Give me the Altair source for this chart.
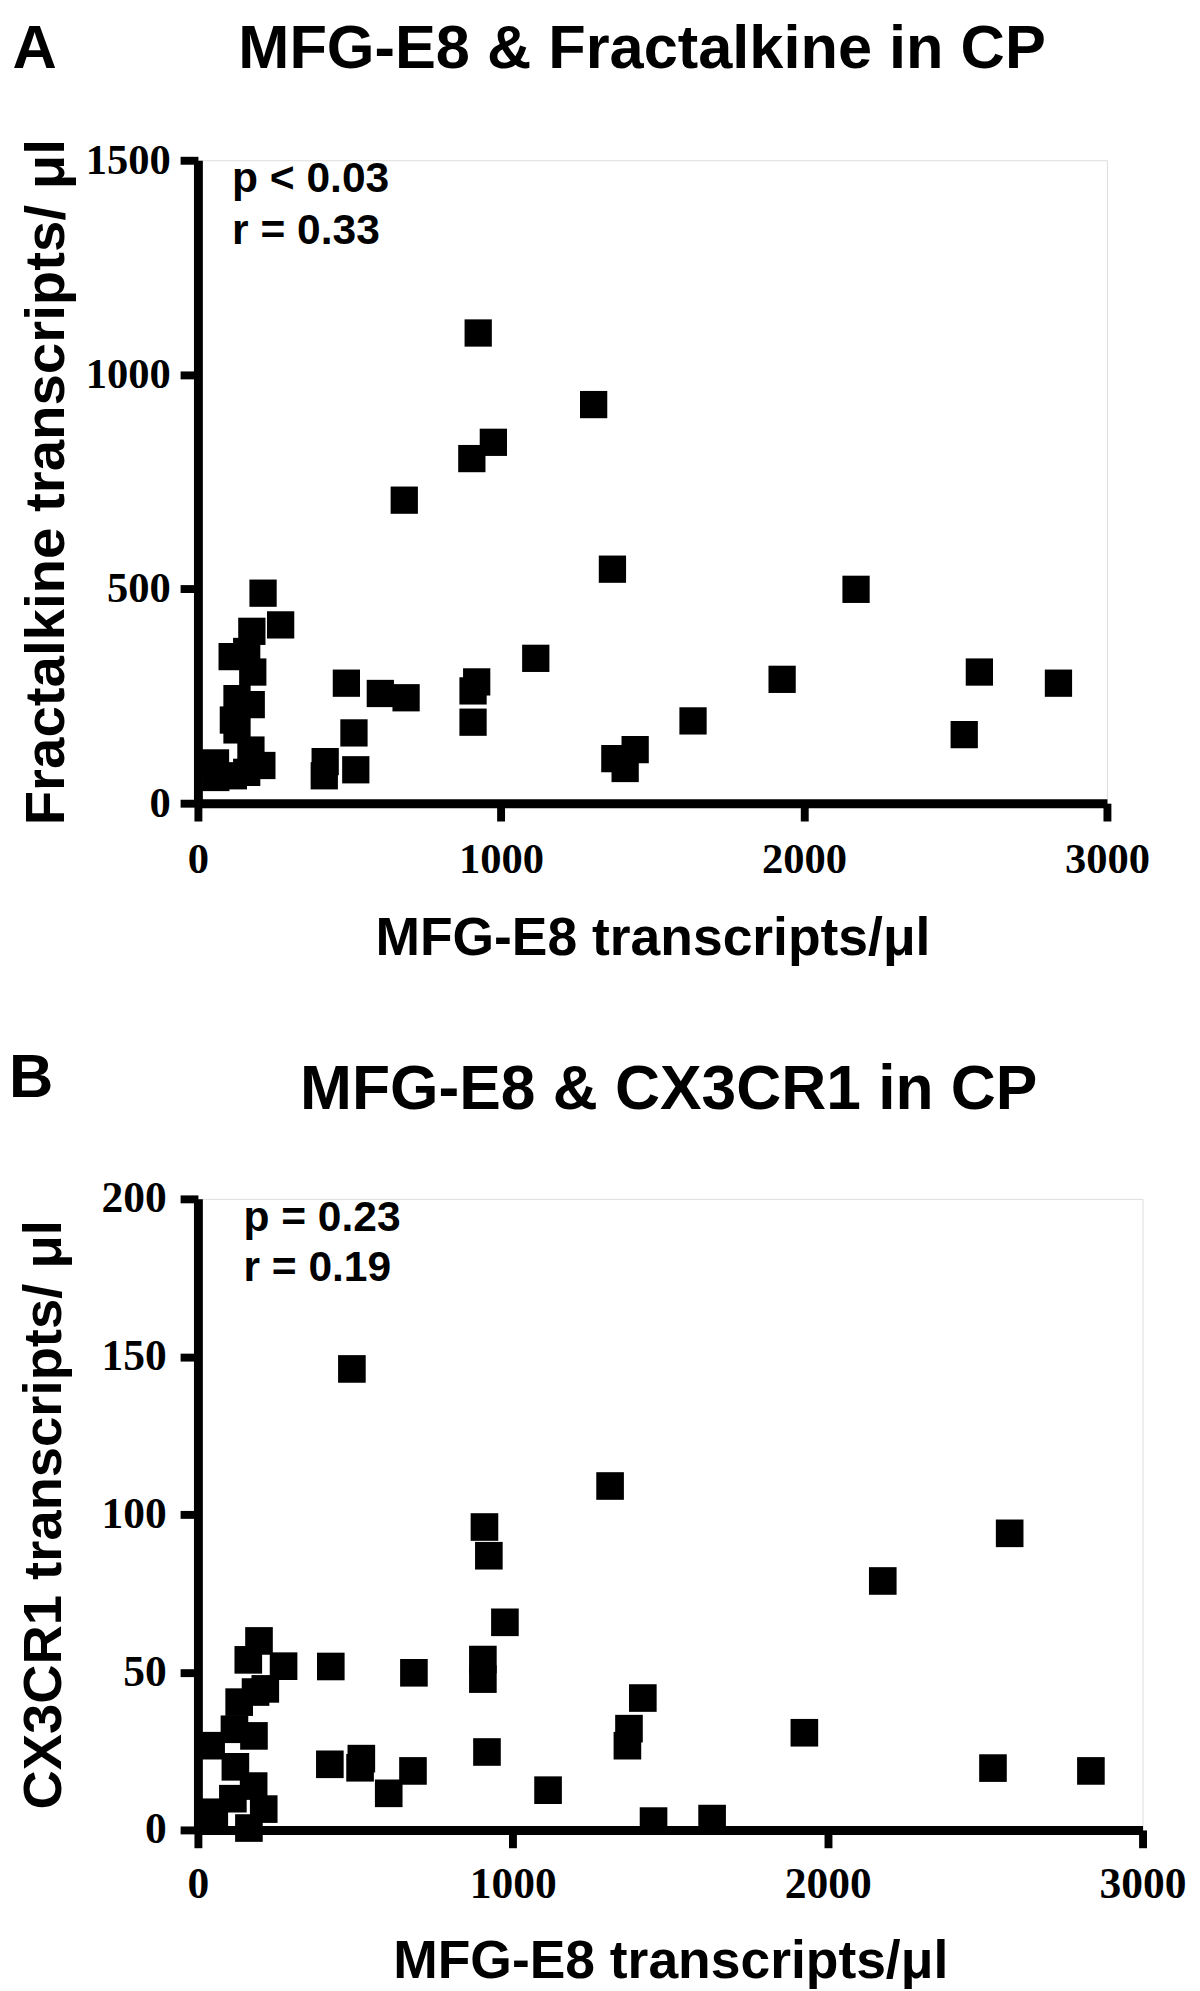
import altair as alt
import pandas as pd

# ---------------- data ----------------
# Panel A: MFG-E8 vs Fractalkine
mfge8_a = [925, 1306, 975, 904, 681, 1368, 2172, 1115, 490, 602, 687, 920, 908, 908,
           1928, 2579, 2840, 1634, 2529, 1443, 1376, 1410, 515, 420, 417, 521,
           215, 273, 178, 113, 161, 181, 129, 176, 117, 129, 175, 211, 58, 59, 117, 161]
fractalkine = [1097, 930, 842, 804, 707, 546, 499, 338, 280, 256, 246, 283, 262, 189,
               289, 306, 280, 192, 160, 125, 104, 81, 164, 97, 64, 78,
               490, 416, 401, 342, 354, 306, 244, 230, 194, 171, 124, 88, 94, 60, 64, 72]

# Panel B: MFG-E8 vs CX3CR1
mfge8_b = [489, 1309, 910, 924, 975, 422, 686, 905, 905, 1413, 1369, 1364, 1926, 918,
           419, 519, 515, 683, 606, 1112, 1447, 1633, 2578, 2175, 2525, 2836,
           194, 160, 272, 183, 214, 131, 116, 178, 42, 119, 177, 111, 209, 52, 162]
cx3cr1 = [146.1, 109.0, 96.0, 86.9, 65.8, 51.8, 49.8, 54.0, 47.8, 41.8, 32.1, 26.7, 30.8, 24.7,
          20.8, 22.6, 19.7, 18.7, 11.6, 12.6, 2.8, 3.6, 94.0, 78.9, 19.6, 18.7,
          59.9, 53.9, 51.9, 43.7, 44.7, 40.5, 31.9, 29.8, 26.7, 20.0, 13.9, 9.9, 6.6, 5.6, 0.6]

x_ticks = [0, 1000, 2000, 3000]
y_ticks_a = [0, 500, 1000, 1500]
y_ticks_b = [0, 50, 100, 150, 200]

SANS = "Liberation Sans"
SERIF = "Liberation Serif"


def text_layer(txt, x, y, size, align="left"):
    return alt.Chart(alt.Data(values=[{"t": txt}])).mark_text(
        x=x, y=y, fontSize=size, font=SANS, fontWeight="bold",
        align=align, baseline="alphabetic", color="black"
    ).encode(text="t:N")


def panel(xs, ys, ymax, yticks, ytitle, width, height, sym, lab_size,
          ytitle_size, ytitle_x, xtitle_size, xtitle_y, tick_a, pad_y, pad_x,
          texts):
    df = pd.DataFrame({"x": xs, "y": ys})
    pts = alt.Chart(df).mark_point(
        shape="square", filled=True, color="black", opacity=1, size=sym, strokeWidth=0
    ).encode(
        x=alt.X("x:Q", scale=alt.Scale(domain=[0, 3000], nice=False),
                axis=alt.Axis(values=x_ticks, format="d", grid=False,
                              domainColor="black", domainWidth=9,
                              tickColor="black", tickWidth=8, tickSize=tick_a,
                              labelFont=SERIF, labelFontWeight="bold",
                              labelFontSize=lab_size, labelColor="black",
                              labelPadding=pad_x, labelFlush=False,
                              title="MFG-E8 transcripts/μl", titleFont=SANS,
                              titleFontWeight="bold", titleFontSize=xtitle_size,
                              titleColor="black", titleBaseline="alphabetic",
                              titleY=xtitle_y)),
        y=alt.Y("y:Q", scale=alt.Scale(domain=[0, ymax], nice=False),
                axis=alt.Axis(values=yticks, format="d", grid=False,
                              domainColor="black", domainWidth=9,
                              tickColor="black", tickWidth=8, tickSize=tick_a,
                              labelFont=SERIF, labelFontWeight="bold",
                              labelFontSize=lab_size, labelColor="black",
                              labelPadding=pad_y, labelFlush=False,
                              title=ytitle, titleFont=SANS, titleFontWeight="bold",
                              titleFontSize=ytitle_size, titleColor="black",
                              titleAngle=270, titleBaseline="alphabetic",
                              titleAlign="center", titleX=ytitle_x,
                              titleY=height / 2)),
    )
    layers = [pts] + [text_layer(*t) for t in texts]
    return alt.layer(*layers).properties(width=width, height=height)


chart_a = panel(
    mfge8_a, fractalkine, 1500, y_ticks_a, "Fractalkine transcripts/ μl",
    919, 650, 760, 43, 57, -136, 54, 153, 18, 10, 18,
    [("A", -187.5, -93, 62), ("MFG-E8 & Fractalkine in CP", 449, -93, 62, "center"),
     ("p < 0.03", 34.5, 32, 43), ("r = 0.33", 34.5, 85, 43)],
)

chart_b = panel(
    mfge8_b, cx3cr1, 200, y_ticks_b, "CX3CR1 transcripts/ μl",
    955, 638, 780, 44, 55, -139, 54, 149, 18, 14, 15,
    [("B", -191, -103, 62), ("MFG-E8 & CX3CR1 in CP", 476, -91, 63, "center"),
     ("p = 0.23", 46, 32, 43), ("r = 0.19", 46, 83, 43)],
)

chart = alt.concat(chart_a, chart_b, columns=1, align="none", spacing=81).properties(
    padding={"left": 0, "top": -1, "right": 5, "bottom": 0}
).configure_view(stroke=None).configure(background="white")

chart.save("out.html", embed_options={"renderer": "svg", "actions": False})
